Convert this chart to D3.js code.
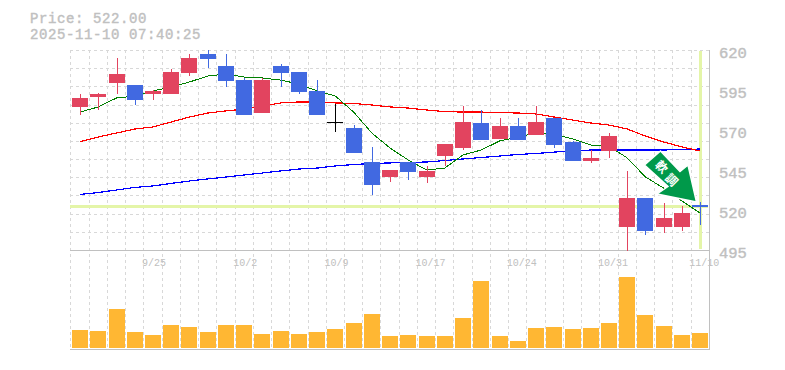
<!DOCTYPE html>
<html>
<head>
<meta charset="utf-8">
<script src="https://cdn.jsdelivr.net/npm/d3@7"></script>
<style>
	html, body { margin: 0; padding: 0; background: #fff; }
	text { font-family: 'Liberation Mono', 'DejaVu Sans Mono', monospace; fill: #c0c0c0; }
</style>
</head>
<body>
<div id="chart"></div>
<script>
const priceLabel = 'Price: 522.00';
const timeLabel = '2025-11-10 07:40:25';
const arrowLabel = ['軟', '調'];

const opens = [584.1, 590.3, 599.1, 597.8, 592.2, 592.2, 605.3, 617.2, 609.7, 600.9, 580.3, 609.7, 605.9, 594.1, 574.5, 570.9, 549.7, 540.3, 549.7, 540.3, 553.4, 558.4, 574.0, 564.1, 572.2, 566.6, 577.2, 562.2, 550.3, 556.6, 509.1, 527.2, 509.1, 509.1, 522.8];
const highs = [592.2, 592.8, 614.7, 597.8, 594.7, 607.8, 617.2, 619.7, 617.2, 602.2, 602.2, 610.9, 605.9, 600.9, 585.9, 572.8, 559.1, 544.7, 549.7, 547.2, 560.9, 584.7, 582.2, 577.2, 577.2, 584.7, 577.2, 562.8, 557.2, 567.8, 544.1, 527.2, 524.1, 522.2, 524.7];
const lows = [579.1, 582.2, 592.2, 585.3, 588.4, 592.2, 603.4, 608.4, 596.6, 579.1, 580.3, 596.6, 592.2, 579.1, 568.4, 555.3, 529.1, 537.2, 538.4, 536.6, 547.2, 557.2, 563.4, 564.1, 563.4, 566.6, 558.4, 550.3, 549.1, 552.2, 494.1, 504.1, 505.3, 506.6, 510.3];
const closes = [589.7, 592.2, 604.7, 588.4, 594.1, 605.9, 614.7, 614.1, 600.3, 579.1, 600.9, 605.3, 593.4, 579.1, 574.5, 555.3, 535.3, 544.7, 543.4, 544.1, 560.9, 574.7, 563.4, 572.2, 563.4, 574.7, 560.3, 550.3, 552.2, 565.9, 527.2, 506.6, 514.7, 517.8, 521.6];

const maShort = [580.9, 584.1, 589.7, 590.9, 594.1, 596.6, 599.7, 603.4, 604.7, 602.8, 602.2, 600.9, 598.4, 594.1, 590.9, 580.9, 567.8, 558.4, 550.9, 544.7, 545.9, 554.1, 557.2, 562.8, 565.3, 567.8, 567.2, 564.1, 560.3, 559.7, 552.2, 540.3, 533.4, 525.3, 517.8];
const maMid = [562.5, 565.3, 567.8, 570.3, 571.6, 574.7, 577.8, 580.3, 581.6, 582.8, 584.7, 586.6, 587.2, 587.2, 586.6, 586.3, 585.3, 584.1, 583.4, 582.2, 581.2, 580.9, 580.9, 580.6, 580.3, 579.7, 577.8, 575.9, 574.1, 572.8, 570.3, 565.9, 562.2, 559.1, 556.6];
const maLong = [529.4, 530.6, 532.2, 533.8, 534.7, 536.3, 537.8, 539.1, 540.3, 541.6, 542.8, 544.1, 545.3, 545.9, 547.2, 548.1, 548.8, 549.1, 549.4, 549.7, 550.6, 551.6, 552.5, 553.4, 554.4, 555.0, 555.9, 556.5, 557.2, 557.2, 557.2, 557.2, 557.2, 557.5, 557.8];

const volumes = [180, 170, 390, 160, 130, 230, 210, 160, 230, 230, 140, 170, 140, 160, 190, 250, 340, 120, 130, 120, 120, 300, 670, 120, 70, 200, 210, 190, 200, 250, 710, 330, 220, 130, 150];

const priceTicks = [620, 595, 570, 545, 520, 495];
const dateTickIndex = [4, 9, 14, 19, 24, 29, 34];
const dateTickLabels = ['9/25', '10/2', '10/9', '10/17', '10/24', '10/31', '11/10'];

const lastPrice = 522;

// dimension stuff
const width = 785;
const height = 370;
const plotLeft = 70.9;
const plotRight = 709.3;
const priceTop = 50;
const priceBottom = 250;
const volumeBottom = 348;
const bodyWidth = 16;

const scaleX = d3.scaleLinear().domain([-0.5, closes.length - 0.5]).range([plotLeft, plotRight]);
const scaleY = d3.scaleLinear().domain([495, 620]).range([249.5, 49.5]);
const scaleVolume = d3.scaleLinear().domain([0, 1000]).range([volumeBottom, volumeBottom - 100]);

const colorUp = '#e2445f';
const colorDown = '#4169e1';
const colorDoji = '#000';
const colorGrid = '#d8d8d8';
const colorAxis = '#c0c0c0';
const colorGuide = '#e4f5a8';

const $svg = d3.select('#chart').append('svg')
	.attr('width', width)
	.attr('height', height)
	.style('display', 'block');

// grid
const gridX = d3.range(closes.length).map(i => Math.floor(scaleX(i - 0.5)) + 0.5);
const gridY = d3.range(priceTop, priceBottom, (priceBottom - priceTop) / 11).map(d => Math.round(d) + 0.5);

const $grid = $svg.append('g')
	.attr('stroke', colorGrid)
	.attr('stroke-dasharray', '3,3')
	.attr('shape-rendering', 'crispEdges');

$grid.selectAll('.grid-x')
	.data(gridX)
	.join('line')
	.attr('x1', d => d)
	.attr('x2', d => d)
	.attr('y1', priceTop)
	.attr('y2', volumeBottom + 2);

$grid.selectAll('.grid-y')
	.data(gridY)
	.join('line')
	.attr('x1', 70)
	.attr('x2', 710)
	.attr('y1', d => d)
	.attr('y2', d => d);

// frame
const $frame = $svg.append('g')
	.attr('stroke', colorAxis)
	.attr('shape-rendering', 'crispEdges');
$frame.append('line').attr('x1', 70).attr('x2', 710).attr('y1', 250.5).attr('y2', 250.5);
$frame.append('line').attr('x1', 70).attr('x2', 710).attr('y1', 349.5).attr('y2', 349.5);
$frame.append('line').attr('x1', 709.5).attr('x2', 709.5).attr('y1', priceTop).attr('y2', 350);

// last price guides
const $guides = $svg.append('g')
	.attr('stroke', colorGuide)
	.attr('stroke-width', 3)
	.attr('shape-rendering', 'crispEdges');
$guides.append('line')
	.attr('x1', 70)
	.attr('x2', 708)
	.attr('y1', scaleY(lastPrice))
	.attr('y2', scaleY(lastPrice));
$guides.append('line')
	.attr('x1', scaleX(closes.length - 1) + 0.5)
	.attr('x2', scaleX(closes.length - 1) + 0.5)
	.attr('y1', 51)
	.attr('y2', 249);

// moving averages
const line = d3.line().x((d, i) => scaleX(i)).y(d => scaleY(d));
[
	{ values: maLong, color: '#0000ff', w: 1.2 },
	{ values: maMid, color: '#ff0000', w: 1.2 },
	{ values: maShort, color: '#008000', w: 1 }
].forEach(ma => {
	$svg.append('path')
		.attr('d', line(ma.values))
		.attr('fill', 'none')
		.attr('stroke', ma.color)
		.attr('stroke-width', ma.w)
		.attr('shape-rendering', 'crispEdges');
});

// candles
const candles = closes.map((c, i) => ({ i, o: opens[i], h: highs[i], l: lows[i], c }));
const candleColor = d => {
	if (d.c === d.o) return colorDoji;
	return d.c > d.o ? colorUp : colorDown;
};

const $candles = $svg.append('g').attr('shape-rendering', 'crispEdges');

$candles.selectAll('.wick')
	.data(candles)
	.join('line')
	.attr('class', 'wick')
	.attr('x1', d => Math.round(scaleX(d.i)) + 0.5)
	.attr('x2', d => Math.round(scaleX(d.i)) + 0.5)
	.attr('y1', d => scaleY(d.h))
	.attr('y2', d => scaleY(d.l))
	.attr('stroke', candleColor);

$candles.selectAll('.body')
	.data(candles)
	.join('rect')
	.attr('class', 'body')
	.attr('x', d => Math.round(scaleX(d.i)) - bodyWidth / 2)
	.attr('width', bodyWidth)
	.attr('y', d => Math.min(scaleY(d.o), scaleY(d.c)))
	.attr('height', d => Math.max(1, Math.abs(scaleY(d.o) - scaleY(d.c))))
	.attr('fill', candleColor);

// volume
$svg.append('g').attr('shape-rendering', 'crispEdges')
	.selectAll('rect')
	.data(volumes)
	.join('rect')
	.attr('x', (d, i) => Math.round(scaleX(i)) - bodyWidth / 2)
	.attr('width', bodyWidth)
	.attr('y', d => scaleVolume(d))
	.attr('height', d => scaleVolume(0) - scaleVolume(d))
	.attr('fill', '#ffb733');

// arrow badge
$svg.append('polygon')
	.attr('points', '660.5,151 644.5,165 668,186.5 657,194 696.5,202 688,165 680,171.5')
	.attr('fill', '#00994a')
	.attr('stroke', '#fff')
	.attr('stroke-width', 1.5);

$svg.selectAll('.arrow-label')
	.data(arrowLabel)
	.join('text')
	.attr('class', 'arrow-label')
	.attr('transform', (d, i) => `translate(${[661.5 + i * 10, 167 + i * 13]}) rotate(45)`)
	.attr('text-anchor', 'middle')
	.attr('dy', '0.36em')
	.style('font-family', "'Noto Sans CJK JP', sans-serif")
	.style('font-size', '12px')
	.style('font-weight', 700)
	.style('fill', '#fff')
	.text(d => d);

// labels
$svg.selectAll('.price-label')
	.data(priceTicks)
	.join('text')
	.attr('class', 'price-label')
	.attr('x', 719)
	.attr('y', d => scaleY(d) + 8.5)
	.style('font-size', '15.5px')
	.style('stroke', colorAxis)
	.style('stroke-width', 0.4)
	.text(d => d);

$svg.selectAll('.date-label')
	.data(dateTickLabels)
	.join('text')
	.attr('class', 'date-label')
	.attr('x', (d, i) => scaleX(dateTickIndex[i]) - 11)
	.attr('y', 266)
	.style('font-size', '10px')
	.text(d => d);

$svg.selectAll('.title-label')
	.data([priceLabel, timeLabel])
	.join('text')
	.attr('class', 'title-label')
	.attr('x', 30)
	.attr('y', (d, i) => 22.5 + i * 16)
	.style('font-size', '14px')
	.style('letter-spacing', '0.6px')
	.style('stroke', colorAxis)
	.style('stroke-width', 0.4)
	.text(d => d);
</script>
</body>
</html>
